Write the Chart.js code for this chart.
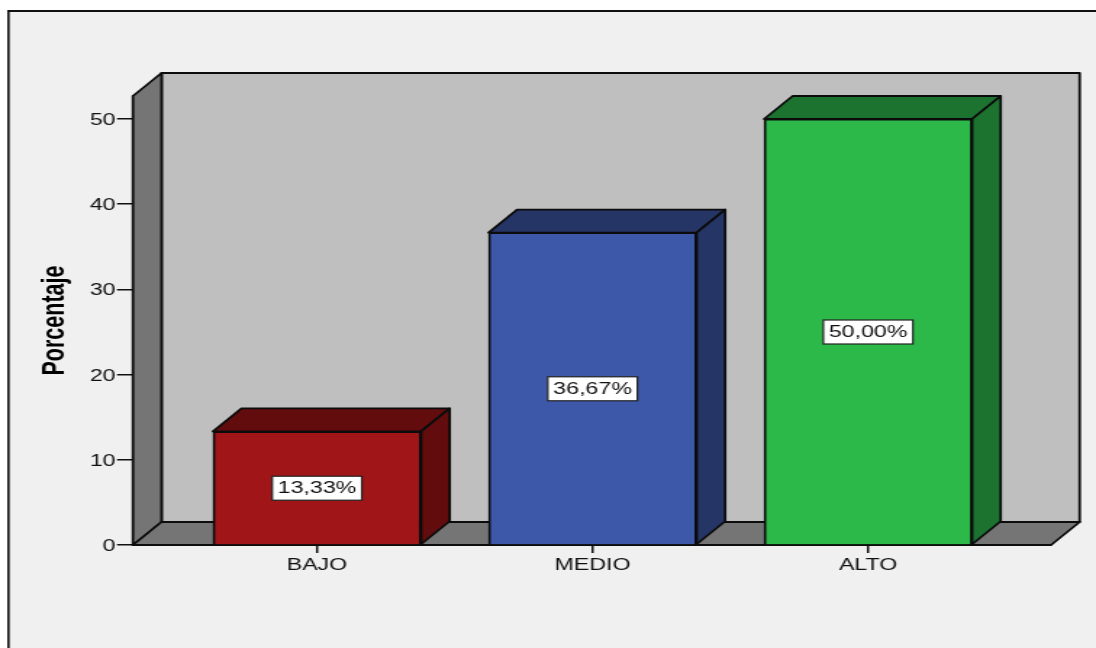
<!DOCTYPE html>
<html>
<head>
<meta charset="utf-8">
<style>
html,body{margin:0;padding:0;background:#fff;overflow:hidden}
#c{display:block}
</style>
<script src="https://cdn.jsdelivr.net/npm/chart.js@4"></script>
</head>
<body>
<canvas id="c" width="756" height="648" style="width:1096px;height:648px"></canvas>
<script>
const categories = ['BAJO', 'MEDIO', 'ALTO'];
const percentages = [13.33, 36.67, 50];
const valueLabels = ['13,33%', '36,67%', '50,00%'];
const yTicks = [0, 10, 20, 30, 40, 50];
const faceColors = ['#a01517', '#3d58a8', '#2db84a'];
const sideColors = ['#620c0e', '#253566', '#1c7330'];
const axisTitle = 'Porcentaje';

const DX = 19.7, DY = 23;
const FONT = "'Liberation Sans', Arial, sans-serif";

function poly(ctx, pts, fill) {
  ctx.beginPath();
  pts.forEach((p, i) => i ? ctx.lineTo(p[0], p[1]) : ctx.moveTo(p[0], p[1]));
  ctx.closePath();
  ctx.fillStyle = fill;
  ctx.fill();
  ctx.stroke();
}

const box3d = {
  id: 'box3d',
  beforeDraw(chart) {
    const { ctx, width, height } = chart;
    ctx.save();
    ctx.fillStyle = '#fff';
    ctx.fillRect(0, 0, width, height);
    ctx.fillStyle = '#f0f0f0';
    ctx.fillRect(5, 11, width, height);
    ctx.fillStyle = '#111';
    ctx.fillRect(5, 10, width, 2);
    ctx.fillRect(5, 10, 1.6, height);
    ctx.restore();
  },
  beforeDatasetsDraw(chart) {
    const { ctx, chartArea: a } = chart;
    const { left: l, right: r, top: t, bottom: b } = a;
    ctx.save();
    ctx.strokeStyle = '#0c0c0c';
    ctx.lineWidth = 1.8;
    ctx.lineJoin = 'round';
    poly(ctx, [[l + DX, t - DY], [r + DX, t - DY], [r + DX, b - DY], [l + DX, b - DY]], '#bfbfbf');
    poly(ctx, [[l, t], [l + DX, t - DY], [l + DX, b - DY], [l, b]], '#757575');
    poly(ctx, [[l, b], [l + DX, b - DY], [r + DX, b - DY], [r, b]], '#757575');
    chart.getDatasetMeta(0).data.forEach((bar, i) => {
      const x0 = bar.x - bar.width / 2, x1 = bar.x + bar.width / 2;
      poly(ctx, [[x0, bar.y], [x0 + DX, bar.y - DY], [x1 + DX, bar.y - DY], [x1, bar.y]], sideColors[i]);
      poly(ctx, [[x1, bar.y], [x1 + DX, bar.y - DY], [x1 + DX, bar.base - DY], [x1, bar.base]], sideColors[i]);
    });
    ctx.restore();
  },
  afterDatasetsDraw(chart) {
    const { ctx } = chart;
    const yScale = chart.scales.y;
    ctx.save();
    ctx.font = '16px ' + FONT;
    ctx.textAlign = 'center';
    ctx.textBaseline = 'middle';
    chart.getDatasetMeta(0).data.forEach((bar, i) => {
      const yc = yScale.getPixelForValue(percentages[i] / 2);
      const w = ctx.measureText(valueLabels[i]).width + 7.5, h = 24;
      ctx.fillStyle = '#fff';
      ctx.strokeStyle = '#222';
      ctx.lineWidth = 1.2;
      ctx.fillRect(bar.x - w / 2, yc - h / 2, w, h);
      ctx.strokeRect(bar.x - w / 2, yc - h / 2, w, h);
      ctx.fillStyle = '#111';
      ctx.fillText(valueLabels[i], bar.x, yc + 0.5);
    });
    ctx.restore();
  }
};

new Chart(document.getElementById('c'), {
  type: 'bar',
  data: {
    datasets: [{
      data: percentages.map((y, i) => ({ x: i, y })),
      backgroundColor: faceColors,
      borderColor: '#0c0c0c',
      borderWidth: 1.8,
      barThickness: 143.5
    }]
  },
  plugins: [box3d],
  options: {
    responsive: false,
    animation: false,
    events: [],
    layout: { padding: { top: 96, right: 31, left: 0, bottom: 0 } },
    plugins: { legend: { display: false }, tooltip: { enabled: false } },
    scales: {
      x: {
        type: 'linear',
        offset: false,
        min: -0.668,
        max: 2.664,
        afterBuildTicks: s => { s.ticks = categories.map((_, i) => ({ value: i })); },
        afterFit: s => { s.height = 103; },
        grid: { offset: false, drawOnChartArea: false, tickLength: 8, color: '#111', lineWidth: 1.5 },
        border: { color: '#111', width: 1.8 },
        ticks: {
          callback: v => categories[v],
          autoSkip: false,
          maxRotation: 0,
          padding: 3,
          color: '#111',
          font: { family: FONT, size: 16 }
        }
      },
      y: {
        min: 0,
        max: 52.7,
        afterBuildTicks: s => { s.ticks = yTicks.map(value => ({ value })); },
        afterFit: s => { s.width = 91.7; },
        title: {
          display: true,
          text: axisTitle,
          color: '#000',
          padding: { top: 25, bottom: 0 },
          font: { family: FONT, size: 21.5, weight: 'bold' }
        },
        grid: { drawOnChartArea: false, tickLength: 11, color: '#111', lineWidth: 1.5 },
        border: { color: '#111', width: 1.8 },
        ticks: {
          stepSize: 10,
          padding: 1,
          labelOffset: 1.5,
          color: '#111',
          font: { family: FONT, size: 16 }
        }
      }
    }
  }
});
</script>
</body>
</html>
